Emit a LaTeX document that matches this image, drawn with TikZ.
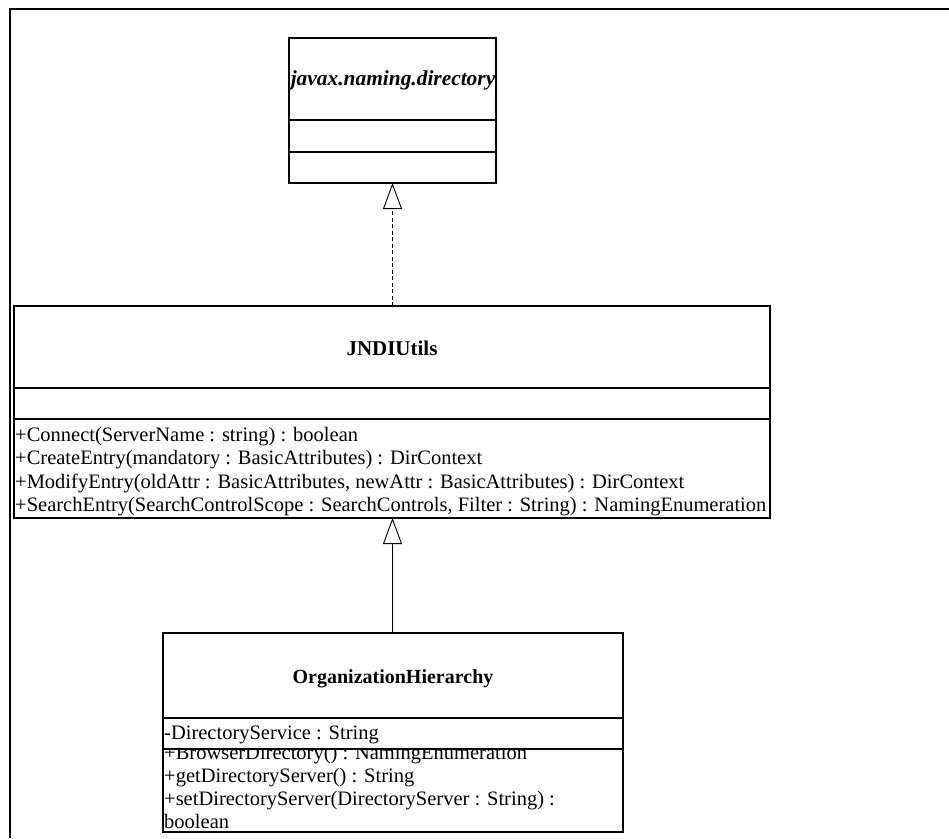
\documentclass[tikz,border=0pt]{standalone}
\usepackage{fontspec}
\setmainfont{Liberation Serif}
\usetikzlibrary{arrows.meta}
\begin{document}
\begin{tikzpicture}[x=1pt,y=-1pt,
  frameline/.style={line width=2pt},
  boxline/.style={line width=1.7pt},
  member/.style={anchor=base west,inner sep=0pt,font=\fontsize{20.5}{23}\selectfont},
  classtitle/.style={inner sep=0pt,font=\fontsize{21}{24}\selectfont\bfseries},
  realize/.style={dash pattern=on 4pt off 2.5pt,line width=0.9pt,-{Triangle[open,width=19pt,length=26pt,line width=0.9pt]}},
  inherit/.style={line width=0.9pt,-{Triangle[open,width=19pt,length=26pt,line width=0.9pt]}}]
\useasboundingbox (0,0) rectangle (949,838);
% outer frame: only the top and left edges are visible
\draw[frameline] (10,838) -- (10,9) -- (949,9);

% ---- javax.naming.directory ----
\draw[boxline] (289,38) rectangle (496,183);
\draw[boxline] (289,120) -- (496,120);
\draw[boxline] (289,152) -- (496,152);
\node[classtitle,font=\fontsize{21.4}{24}\selectfont\bfseries\itshape] (dir) at (393,80) {javax.naming.directory};
\coordinate (dirB) at (392.5,183);

% ---- JNDIUtils ----
\draw[boxline] (14,306) rectangle (770,518);
\draw[boxline] (14,388) -- (770,388);
\draw[boxline] (14,419) -- (770,419);
\node[classtitle] (jndi) at (392,348) {JNDIUtils};
\coordinate (jndiT) at (392.5,306);
\coordinate (jndiB) at (392.5,518);
\node[member] (m1) at (15,441) {+Connect(ServerName : string) : boolean};
\node[member] (m2) at (15,464.5) {+CreateEntry(mandatory : BasicAttributes) : DirContext};
\node[member] (m3) at (15,488) {+ModifyEntry(oldAttr : BasicAttributes, newAttr : BasicAttributes) : DirContext};
\node[member] (m4) at (15,511.5) {+SearchEntry(SearchControlScope : SearchControls, Filter : String) : NamingEnumeration};

% ---- OrganizationHierarchy ----
\begin{scope}
\clip (163,749) rectangle (623,832);
\node[member] (o2) at (164,759) {+BrowserDirectory() : NamingEnumeration};
\node[member] (o3) at (164,782) {+getDirectoryServer() : String};
\node[member] (o4) at (164,805) {+setDirectoryServer(DirectoryServer : String) :};
\node[member] (o5) at (164,828) {boolean};
\end{scope}
\draw[boxline] (163,633) rectangle (623,832);
\draw[boxline] (163,718) -- (623,718);
\draw[boxline] (163,749) -- (623,749);
\node[classtitle,font=\fontsize{20}{23}\selectfont\bfseries] (org) at (393,679) {OrganizationHierarchy};
\node[member] (o1) at (164,739) {-DirectoryService : String};
\coordinate (orgT) at (392.5,633);

% ---- relations ----
\draw[realize] (jndiT) -- (dirB);
\draw[inherit] (orgT) -- (jndiB);
\end{tikzpicture}
\end{document}
